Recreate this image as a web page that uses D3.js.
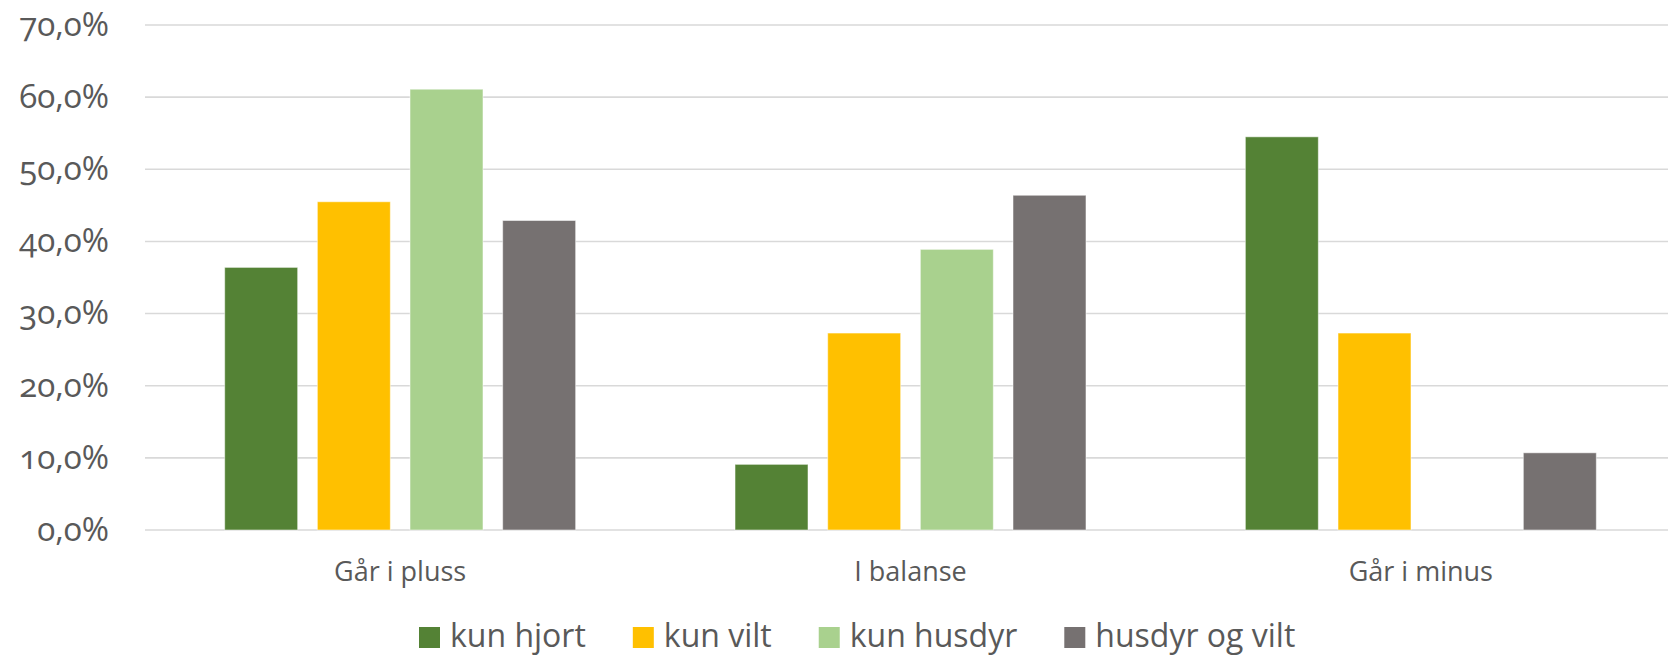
<!DOCTYPE html>
<head>
  <meta charset="utf-8">
  <script src="https://d3js.org/d3.v7.min.js"></script>
  <style>
    body { margin: 0; background: #fff; }
    text { fill: #595959; }
  </style>
</head>

<body>
  <div id="chart"></div>
</body>

<script>

// data
var categories = ["Går i pluss", "I balanse", "Går i minus"];
var series = ["kun hjort", "kun vilt", "kun husdyr", "husdyr og vilt"];
var colors = ["#548235", "#FFC000", "#A9D18E", "#767171"];
var kunHjort = [36.4, 9.1, 54.5];
var kunVilt = [45.5, 27.3, 27.3];
var kunHusdyr = [61.1, 38.9, 0];
var husdyrOgVilt = [42.9, 46.4, 10.7];
var yTicks = [0, 10, 20, 30, 40, 50, 60, 70];

var values = [kunHjort, kunVilt, kunHusdyr, husdyrOgVilt];

var W = 1668, H = 656;
var plotLeft = 145, plotRight = 1676, plotTop = 25, plotBottom = 530;

var svg = d3.select("#chart")
  .append("svg")
    .attr("width", W)
    .attr("height", H);

var x = d3.scaleBand()
  .domain(categories)
  .range([plotLeft, plotRight])
  .padding(0);

var xs = d3.scaleBand()
  .domain(series)
  .range([0, x.bandwidth()])
  .paddingInner(0.2125)
  .paddingOuter(0.86);

var y = d3.scaleLinear()
  .domain([0, 70])
  .range([plotBottom, plotTop]);

// gridlines
svg.append("g")
  .selectAll("line")
  .data(yTicks)
  .enter()
  .append("line")
    .attr("x1", plotLeft)
    .attr("x2", W)
    .attr("y1", function(d) { return y(d); })
    .attr("y2", function(d) { return y(d); })
    .style("stroke", "#D9D9D9")
    .style("stroke-width", 1.6);

// y labels
svg.append("g")
  .selectAll("text")
  .data(yTicks)
  .enter()
  .append("text")
    .attr("x", 109)
    .attr("y", function(d) { return y(d) + 2; })
    .attr("text-anchor", "end")
    .attr("dominant-baseline", "middle")
    .style("font-family", "'Open Sans', sans-serif")
    .style("font-variant-numeric", "oldstyle-nums")
    .style("font-size", "33px")
    .text(function(d) { return d3.format(".1f")(d).replace(".", ",") + "%"; });

// bars
var groups = svg.append("g")
  .selectAll("g")
  .data(series)
  .enter()
  .append("g")
    .style("fill", function(d, i) { return colors[i]; });

groups.selectAll("rect")
  .data(function(s, i) { return categories.map(function(c, j) { return {s: s, c: c, v: values[i][j]}; }); })
  .enter()
  .append("rect")
    .filter(function(d) { return d.v > 0; })
    .attr("x", function(d) { return x(d.c) + xs(d.s); })
    .attr("width", xs.bandwidth())
    .attr("y", function(d) { return y(d.v); })
    .attr("height", function(d) { return y(0) - y(d.v); })
    .style("stroke", "#fff")
    .style("stroke-opacity", 0.5)
    .style("stroke-width", 1);

// x labels
svg.append("g")
  .selectAll("text")
  .data(categories)
  .enter()
  .append("text")
    .attr("x", function(d) { return x(d) + x.bandwidth() / 2; })
    .attr("y", 581)
    .attr("text-anchor", "middle")
    .style("font-family", "'Open Sans', sans-serif")
    .style("font-size", "27px")
    .text(function(d) { return d; });

// legend
var legend = svg.append("g");
var lx = 419;
series.forEach(function(s, i) {
  legend.append("rect")
    .attr("x", lx)
    .attr("y", 627)
    .attr("width", 21)
    .attr("height", 21)
    .style("fill", colors[i]);
  var t = legend.append("text")
    .attr("x", lx + 31)
    .attr("y", 647)
    .style("font-family", "'Liberation Sans Narrow', 'Open Sans', sans-serif")
    .style("font-size", "32px")
    .text(s);
  lx += 31 + t.node().getComputedTextLength() + 47;
});

</script>
